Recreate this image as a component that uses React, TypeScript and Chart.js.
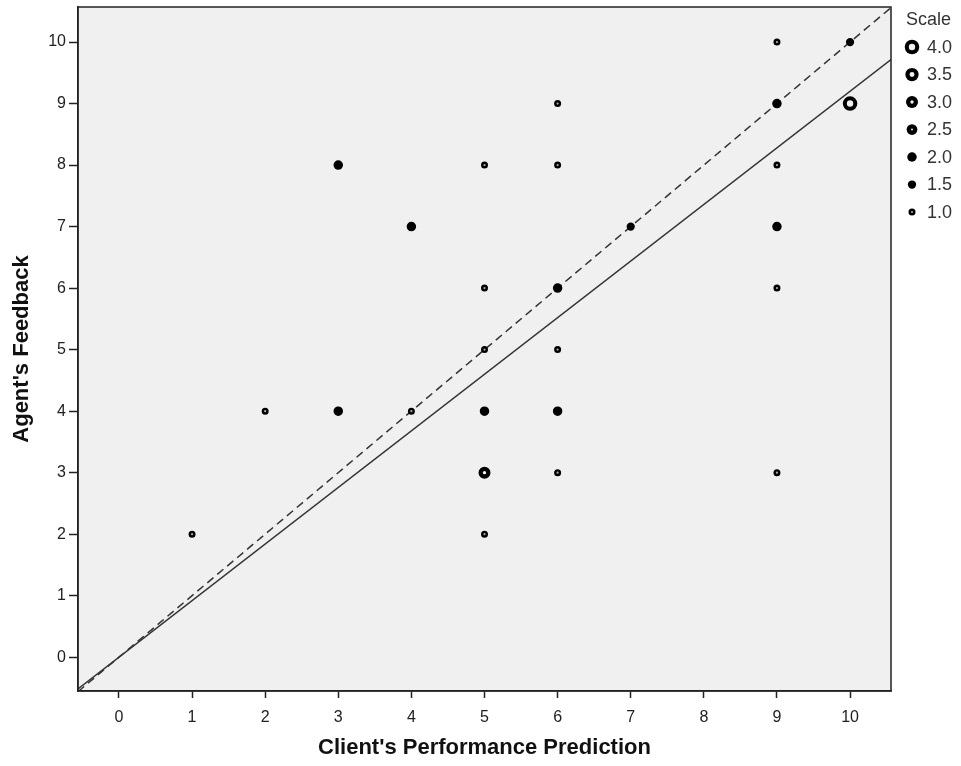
import { useEffect, useRef } from 'react';
import { Chart, registerables } from 'chart.js';

Chart.register(...registerables);

// ---- data ----
const xValues = [1, 2, 3, 3, 4, 4, 5, 5, 5, 5, 5, 5, 6, 6, 6, 6, 6, 6, 7, 9, 9, 9, 9, 9, 9, 10, 10];
const yValues = [2, 4, 8, 4, 7, 4, 8, 6, 5, 4, 3, 2, 9, 8, 6, 5, 4, 3, 7, 10, 9, 8, 7, 6, 3, 10, 9];
const scaleValues = [1, 1, 2, 2, 2, 1, 1, 1, 1, 2, 3, 1, 1, 1, 2, 1, 2, 1, 1.5, 1, 2, 1, 2, 1, 1, 1.5, 4];
const legendScales = [4.0, 3.5, 3.0, 2.5, 2.0, 1.5, 1.0];
const xTicks = [0, 1, 2, 3, 4, 5, 6, 7, 8, 9, 10];
const yTicks = [0, 1, 2, 3, 4, 5, 6, 7, 8, 9, 10];
const X_MIN = -0.56;
const X_MAX = 10.56;
const Y_MIN = -0.55;
const Y_MAX = 10.57;
const FIT_SLOPE = 0.92;

const X_TITLE = "Client's Performance Prediction";
const Y_TITLE = "Agent's Feedback";
const LEGEND_TITLE = 'Scale';

const FONT = "'Liberation Sans', Arial, sans-serif";

function markerStyle(s: number) {
  const outer = 3.5 + (s - 1) * 1.25;
  let hole = 0;
  if (s <= 1) hole = 1.1;
  else if (s >= 2.5) hole = (s - 2) * 1.5 + 0.2;
  return { outer, hole };
}

function drawMarker(ctx: CanvasRenderingContext2D, x: number, y: number, s: number) {
  const { outer, hole } = markerStyle(s);
  ctx.save();
  ctx.beginPath();
  ctx.arc(x, y, outer, 0, Math.PI * 2);
  ctx.fillStyle = '#000';
  ctx.fill();
  if (hole > 0) {
    ctx.beginPath();
    ctx.arc(x, y, hole, 0, Math.PI * 2);
    ctx.fillStyle = s <= 1 ? '#aaa' : '#f0f0f0';
    ctx.fill();
  }
  ctx.restore();
}

const decorPlugin = {
  id: 'decor',
  beforeDraw(chart: any) {
    const { ctx, chartArea } = chart;
    ctx.save();
    ctx.fillStyle = '#f0f0f0';
    ctx.fillRect(chartArea.left, chartArea.top, chartArea.right - chartArea.left, chartArea.bottom - chartArea.top);
    ctx.restore();
  },
  afterDraw(chart: any) {
    const { ctx, chartArea } = chart;
    ctx.save();
    // frame
    ctx.strokeStyle = '#222';
    ctx.lineWidth = 1.5;
    ctx.strokeRect(chartArea.left, chartArea.top, chartArea.right - chartArea.left, chartArea.bottom - chartArea.top);

    // axis titles
    ctx.fillStyle = '#111';
    ctx.font = `bold 22px ${FONT}`;
    ctx.textAlign = 'center';
    ctx.textBaseline = 'middle';
    ctx.fillText(X_TITLE, (chartArea.left + chartArea.right) / 2, 748);
    ctx.save();
    ctx.translate(22, (chartArea.top + chartArea.bottom) / 2);
    ctx.rotate(-Math.PI / 2);
    ctx.fillText(Y_TITLE, 0, 0);
    ctx.restore();

    // legend
    ctx.fillStyle = '#333';
    ctx.font = `18px ${FONT}`;
    ctx.textAlign = 'left';
    ctx.textBaseline = 'middle';
    ctx.fillText(LEGEND_TITLE, 906, 20);
    legendScales.forEach((s, i) => {
      const y = 47 + i * 27.5;
      drawMarker(ctx, 912, y, s);
      ctx.fillStyle = '#333';
      ctx.fillText(s.toFixed(1), 927, y + 1);
    });
    ctx.restore();
  },
};

export default function App() {
  const canvasRef = useRef<HTMLCanvasElement | null>(null);

  useEffect(() => {
    const canvas = canvasRef.current;
    if (!canvas) return;

    const points = xValues.map((x, i) => ({ x, y: yValues[i], s: scaleValues[i] }));
    const radiusOf = (c: any) => {
      const { outer, hole } = markerStyle(c.raw ? c.raw.s : 1);
      return hole > 0 ? (outer + hole) / 2 : outer / 2;
    };

    const chart = new Chart(canvas, {
      type: 'scatter',
      data: {
        datasets: [
          {
            label: 'points',
            data: points as any,
            order: 0,
            pointStyle: 'circle',
            pointRadius: radiusOf,
            pointHoverRadius: radiusOf,
            pointBorderWidth: (c: any) => {
              const { outer, hole } = markerStyle(c.raw ? c.raw.s : 1);
              return hole > 0 ? outer - hole : outer;
            },
            pointBackgroundColor: (c: any) => {
              const s = c.raw ? c.raw.s : 1;
              const { hole } = markerStyle(s);
              return hole > 0 ? (s <= 1 ? '#aaa' : '#f0f0f0') : '#000';
            },
            pointBorderColor: '#000',
          } as any,
          {
            label: 'reference',
            data: [
              { x: X_MIN, y: X_MIN },
              { x: X_MAX, y: X_MAX },
            ],
            showLine: true,
            order: 1,
            pointRadius: 0,
            borderColor: '#333',
            borderWidth: 1.5,
            borderDash: [8, 5],
          } as any,
          {
            label: 'fit',
            data: [
              { x: X_MIN, y: X_MIN * FIT_SLOPE },
              { x: X_MAX, y: X_MAX * FIT_SLOPE },
            ],
            showLine: true,
            order: 2,
            pointRadius: 0,
            borderColor: '#333',
            borderWidth: 1.5,
          } as any,
        ],
      },
      options: {
        animation: false,
        responsive: false,
        maintainAspectRatio: false,
        layout: { autoPadding: false, padding: { top: 7, right: 70, left: 0, bottom: 0 } },
        plugins: {
          legend: { display: false },
          tooltip: { enabled: false },
        },
        scales: {
          x: {
            type: 'linear',
            min: X_MIN,
            max: X_MAX,
            afterBuildTicks: (scale: any) => {
              scale.ticks = xTicks.map((v) => ({ value: v }));
            },
            afterFit: (scale: any) => {
              scale.height = 75;
              scale.paddingLeft = 0;
              scale.paddingRight = 0;
            },
            ticks: {
              includeBounds: false,
              color: '#222',
              font: { family: FONT, size: 16 },
              padding: 10,
              maxRotation: 0,
              callback: (v: any) => String(v),
            },
            grid: {
              drawOnChartArea: false,
              drawTicks: true,
              tickLength: 7,
              tickColor: '#222',
              tickWidth: 1.5,
            },
            border: { display: true, color: '#222', width: 1.5 },
          },
          y: {
            type: 'linear',
            min: Y_MIN,
            max: Y_MAX,
            afterBuildTicks: (scale: any) => {
              scale.ticks = yTicks.map((v) => ({ value: v }));
            },
            afterFit: (scale: any) => {
              scale.width = 78;
              scale.paddingTop = 0;
              scale.paddingBottom = 0;
            },
            ticks: {
              includeBounds: false,
              color: '#222',
              font: { family: FONT, size: 16 },
              padding: 3,
              callback: (v: any) => String(v),
            },
            grid: {
              drawOnChartArea: false,
              drawTicks: true,
              tickLength: 9,
              tickColor: '#222',
              tickWidth: 1.5,
            },
            border: { display: true, color: '#222', width: 1.5 },
          },
        },
      } as any,
      plugins: [decorPlugin],
    });

    return () => chart.destroy();
  }, []);

  return (
    <div style={{ position: 'absolute', left: 0, top: 0, width: 961, height: 766, background: '#fff' }}>
      <canvas ref={canvasRef} width={961} height={766} style={{ width: 961, height: 766, display: 'block' }} />
    </div>
  );
}
